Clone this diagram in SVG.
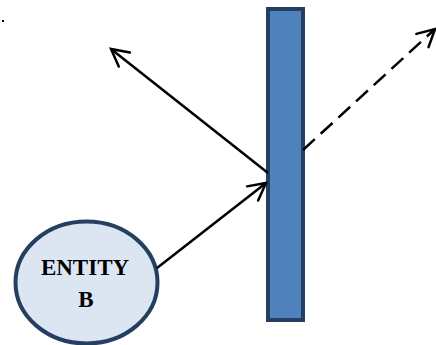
<svg xmlns="http://www.w3.org/2000/svg" width="436" height="345" viewBox="0 0 436 345">
<style>
.conn{fill:none;stroke:#000;stroke-width:2.5}
.dash{stroke-dasharray:16 8}
.lbl{font-family:"Liberation Serif",serif;font-weight:bold;font-size:23px;fill:#000;text-anchor:middle}
</style>
<defs>
<marker id="arr" markerUnits="userSpaceOnUse" markerWidth="40" markerHeight="40" viewBox="-20 -20 40 40" refX="0" refY="0" orient="auto">
<path d="M-17,-9 L0,0 L-17,9" fill="none" stroke="#000" stroke-width="2.5" stroke-linecap="round" stroke-linejoin="miter"/>
</marker>
</defs>
<rect x="2" y="20" width="2" height="2" fill="#000"/>
<g id="barrier">
<rect x="268" y="9" width="35" height="311" fill="#4F81BD" stroke="#243F60" stroke-width="4"/>
</g>
<g id="entity-b">
<ellipse cx="86.5" cy="282.5" rx="71" ry="61" fill="#DCE6F2" stroke="#243F60" stroke-width="4"/>
<text class="lbl" x="85" y="275">ENTITY</text>
<text class="lbl" x="86" y="307">B</text>
</g>
<g id="connectors">
<line class="conn" x1="157" y1="268" x2="266" y2="183" marker-end="url(#arr)"/>
<line class="conn" x1="268" y1="173" x2="111" y2="49" marker-end="url(#arr)"/>
<line class="conn dash" x1="303" y1="150" x2="435" y2="29" marker-end="url(#arr)"/>
</g>
</svg>
